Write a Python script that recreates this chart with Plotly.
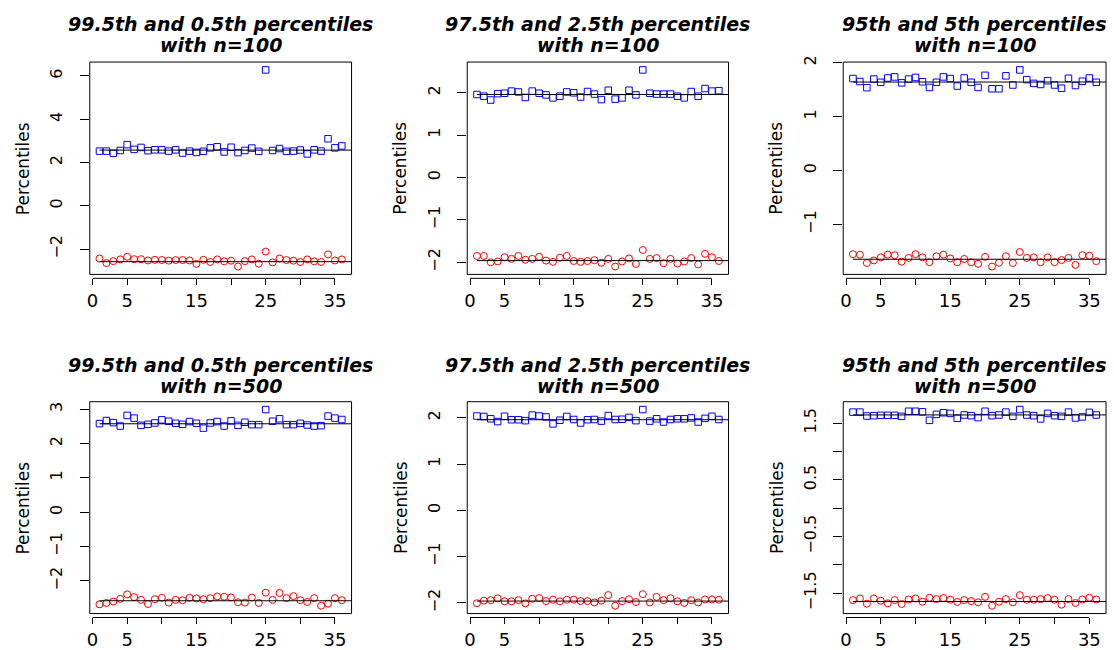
import plotly.graph_objects as go

# ---------------- data ----------------
x_index = list(range(1, 37))

upper_995_n100 = [2.53, 2.53, 2.43, 2.56, 2.83, 2.61, 2.70, 2.55, 2.59, 2.59, 2.53, 2.59,
                  2.44, 2.53, 2.47, 2.52, 2.68, 2.73, 2.49, 2.71, 2.46, 2.56, 2.67, 2.52,
                  6.28, 2.56, 2.65, 2.52, 2.53, 2.58, 2.40, 2.59, 2.53, 3.10, 2.68, 2.77]
lower_995_n100 = [-2.43, -2.64, -2.55, -2.47, -2.35, -2.46, -2.46, -2.52, -2.49, -2.50, -2.53, -2.50,
                  -2.50, -2.52, -2.68, -2.49, -2.59, -2.47, -2.56, -2.53, -2.80, -2.55, -2.47, -2.67,
                  -2.11, -2.61, -2.43, -2.50, -2.53, -2.59, -2.47, -2.56, -2.59, -2.24, -2.52, -2.47]

upper_975_n100 = [1.96, 1.92, 1.83, 1.98, 1.99, 2.04, 2.02, 1.89, 2.04, 1.99, 1.95, 1.88,
                  1.92, 2.02, 2.00, 1.90, 2.03, 1.97, 1.84, 2.06, 1.85, 1.88, 2.06, 1.95,
                  2.54, 1.99, 1.97, 1.97, 1.97, 1.92, 1.88, 2.03, 1.92, 2.10, 2.04, 2.05]
lower_975_n100 = [-1.85, -1.85, -2.00, -1.98, -1.88, -1.92, -1.85, -1.94, -1.92, -1.87, -1.96, -1.99,
                  -1.89, -1.85, -1.97, -1.99, -1.97, -1.95, -2.01, -1.92, -2.10, -1.98, -1.91, -2.04,
                  -1.71, -1.92, -1.90, -2.02, -1.92, -2.03, -1.98, -1.90, -2.05, -1.80, -1.88, -1.97]

upper_95_n100 = [1.71, 1.655, 1.54, 1.70, 1.64, 1.72, 1.74, 1.63, 1.70, 1.73, 1.65, 1.545,
                 1.64, 1.74, 1.71, 1.57, 1.72, 1.64, 1.545, 1.77, 1.52, 1.52, 1.76, 1.59,
                 1.87, 1.69, 1.62, 1.60, 1.67, 1.59, 1.53, 1.715, 1.58, 1.66, 1.72, 1.64]
lower_95_n100 = [-1.55, -1.56, -1.715, -1.667, -1.61, -1.56, -1.57, -1.69, -1.62, -1.55, -1.61, -1.70,
                 -1.59, -1.56, -1.63, -1.70, -1.64, -1.70, -1.73, -1.60, -1.78, -1.71, -1.59, -1.715,
                 -1.51, -1.62, -1.61, -1.70, -1.61, -1.70, -1.66, -1.62, -1.75, -1.57, -1.58, -1.68]

upper_995_n500 = [2.58, 2.67, 2.61, 2.51, 2.82, 2.74, 2.53, 2.56, 2.60, 2.69, 2.65, 2.59,
                  2.56, 2.64, 2.59, 2.45, 2.60, 2.64, 2.51, 2.66, 2.53, 2.62, 2.55, 2.55,
                  2.99, 2.65, 2.72, 2.55, 2.55, 2.59, 2.54, 2.51, 2.52, 2.80, 2.74, 2.70]
lower_995_n500 = [-2.68, -2.64, -2.60, -2.52, -2.39, -2.47, -2.55, -2.67, -2.53, -2.49, -2.63, -2.55,
                  -2.56, -2.49, -2.51, -2.53, -2.50, -2.45, -2.46, -2.48, -2.62, -2.63, -2.48, -2.64,
                  -2.34, -2.55, -2.35, -2.50, -2.44, -2.56, -2.61, -2.50, -2.72, -2.66, -2.50, -2.56]

upper_975_n500 = [2.04, 2.03, 1.98, 1.92, 2.035, 1.96, 1.96, 1.94, 2.06, 2.04, 2.02, 1.87,
                  1.95, 2.03, 1.965, 1.89, 1.96, 1.965, 1.93, 2.05, 1.965, 1.97, 2.01, 1.94,
                  2.18, 1.93, 1.98, 1.91, 1.965, 1.98, 1.98, 2.00, 1.91, 1.99, 2.035, 1.965]
lower_975_n500 = [-2.007, -1.95, -1.94, -1.90, -1.965, -1.965, -1.94, -2.01, -1.91, -1.895, -1.96, -1.93,
                  -1.965, -1.93, -1.93, -1.96, -1.96, -1.99, -1.95, -1.83, -2.06, -1.96, -1.92, -1.98,
                  -1.81, -1.99, -1.87, -1.94, -1.90, -1.965, -2.00, -1.94, -1.99, -1.925, -1.925, -1.93]

upper_95_n500 = [1.695, 1.695, 1.626, 1.632, 1.638, 1.638, 1.638, 1.62, 1.71, 1.71, 1.70, 1.55,
                 1.655, 1.684, 1.672, 1.586, 1.644, 1.632, 1.598, 1.71, 1.632, 1.644, 1.695, 1.62,
                 1.74, 1.644, 1.632, 1.575, 1.672, 1.632, 1.62, 1.695, 1.592, 1.61, 1.69, 1.644]
lower_95_n500 = [-1.621, -1.592, -1.684, -1.592, -1.632, -1.678, -1.621, -1.69, -1.61, -1.592, -1.65, -1.58,
                 -1.603, -1.586, -1.615, -1.655, -1.621, -1.638, -1.66, -1.563, -1.72, -1.65, -1.603, -1.66,
                 -1.534, -1.615, -1.615, -1.603, -1.586, -1.615, -1.702, -1.603, -1.672, -1.61, -1.58, -1.61]

# theoretical normal quantiles (reference lines)
ref_995 = 2.576
ref_975 = 1.960
ref_95 = 1.645

title_line1 = ["99.5th and 0.5th percentiles", "97.5th and 2.5th percentiles", "95th and 5th percentiles"]
sample_sizes = [100, 500]

x_tickvals = [0, 5, 10, 15, 20, 25, 30, 35]
x_ticktext = ["0", "5", "", "15", "", "25", "", "35"]

y_tickvals_1 = [-2, 0, 2, 4, 6]
y_ticktext_1 = ["\u22122", "0", "2", "4", "6"]
y_tickvals_2 = [-2, -1, 0, 1, 2]
y_ticktext_2 = ["\u22122", "\u22121", "0", "1", "2"]
y_tickvals_3 = [-1, 0, 1, 2]
y_ticktext_3 = ["\u22121", "0", "1", "2"]
y_tickvals_4 = [-2, -1, 0, 1, 2, 3]
y_ticktext_4 = ["\u22122", "\u22121", "0", "1", "2", "3"]
y_tickvals_5 = [-2, -1, 0, 1, 2]
y_ticktext_5 = ["\u22122", "\u22121", "0", "1", "2"]
y_tickvals_6 = [-1.5, -1, -0.5, 0, 0.5, 1, 1.5]
y_ticktext_6 = ["\u22121.5", "", "\u22120.5", "", "0.5", "", "1.5"]

panels = [
    (upper_995_n100, lower_995_n100, ref_995, y_tickvals_1, y_ticktext_1),
    (upper_975_n100, lower_975_n100, ref_975, y_tickvals_2, y_ticktext_2),
    (upper_95_n100, lower_95_n100, ref_95, y_tickvals_3, y_ticktext_3),
    (upper_995_n500, lower_995_n500, ref_995, y_tickvals_4, y_ticktext_4),
    (upper_975_n500, lower_975_n500, ref_975, y_tickvals_5, y_ticktext_5),
    (upper_95_n500, lower_95_n500, ref_95, y_tickvals_6, y_ticktext_6),
]

# ---------------- layout geometry (pixels) ----------------
W, H = 1114, 650
col_px = [(87, 349.5), (465.5, 727.5), (842.5, 1106)]
row_px = [(56, 272), (401.5, 617)]
title_y_px = [(17, 38.5), (364.5, 386)]
FONT = "DejaVu Sans"


def ext_range(lo, hi, f=0.04):
    d = (hi - lo) * f
    return [lo - d, hi + d]


fig = go.Figure()
layout = dict(
    width=W, height=H,
    margin=dict(l=0, r=0, t=0, b=0),
    paper_bgcolor="white", plot_bgcolor="white",
    showlegend=False,
    font=dict(family=FONT, color="black"),
)
shapes = []
annotations = []

xr = ext_range(min(x_index), max(x_index))

for i, (up, lo, ref, ytv, ytt) in enumerate(panels):
    r, c = divmod(i, 3)
    k = i + 1
    xs = "x" if k == 1 else f"x{k}"
    ys = "y" if k == 1 else f"y{k}"
    xkey = "xaxis" if k == 1 else f"xaxis{k}"
    ykey = "yaxis" if k == 1 else f"yaxis{k}"
    x0p, x1p = col_px[c]
    ytp, ybp = row_px[r]
    yr = ext_range(min(up + lo), max(up + lo))
    axis_pos = 1 - (ybp + 4) / H

    layout[xkey] = dict(
        domain=[x0p / W, x1p / W], range=xr, anchor="free", position=axis_pos,
        tickmode="array", tickvals=x_tickvals, ticktext=x_ticktext,
        ticks="outside", ticklen=6, tickwidth=1, tickcolor="black",
        showline=False, showgrid=False, zeroline=False,
        tickfont=dict(family=FONT, size=18, color="black"),
        fixedrange=True,
    )
    layout[ykey] = dict(
        domain=[1 - ybp / H, 1 - ytp / H], range=yr, anchor=xs,
        tickmode="array", tickvals=ytv, ticktext=ytt, tickangle=-90,
        ticks="outside", ticklen=9, tickwidth=1, tickcolor="black",
        showline=False, showgrid=False, zeroline=False,
        tickfont=dict(family=FONT, size=16, color="black"),
        ticklabelstandoff=11,
        fixedrange=True,
    )

    fig.add_trace(go.Scatter(
        x=x_index, y=up, mode="markers", xaxis=xs, yaxis=ys,
        marker=dict(symbol="square-open", size=6.5, color="#0000ff", line=dict(width=1, color="#0000ff")),
        hoverinfo="skip",
    ))
    fig.add_trace(go.Scatter(
        x=x_index, y=lo, mode="markers", xaxis=xs, yaxis=ys,
        marker=dict(symbol="circle-open", size=7, color="#ff0000", line=dict(width=1, color="#ff0000")),
        hoverinfo="skip",
    ))
    for v in (ref, -ref):
        fig.add_trace(go.Scatter(
            x=[x_index[0], xr[1]], y=[v, v], mode="lines", xaxis=xs, yaxis=ys,
            line=dict(color="black", width=1), hoverinfo="skip",
        ))

    # plot frame
    shapes.append(dict(type="rect", xref=f"{xs} domain", yref=f"{ys} domain",
                       x0=0, x1=1, y0=0, y1=1, line=dict(color="black", width=1)))
    # x axis line (first to last tick)
    shapes.append(dict(type="line", xref=xs, yref="paper",
                       x0=x_tickvals[0], x1=x_tickvals[-1], y0=axis_pos, y1=axis_pos,
                       line=dict(color="black", width=1)))

    cx = (x0p + x1p) / 2 / W
    t1, t2 = title_y_px[r]
    for txt, ty in ((title_line1[c], t1), (f"with n={sample_sizes[r]}", t2)):
        annotations.append(dict(
            text=txt, xref="paper", yref="paper", x=cx, y=1 - ty / H,
            xanchor="center", yanchor="middle", showarrow=False,
            font=dict(family=FONT, size=19, color="black", weight="bold", style="italic"),
        ))
    annotations.append(dict(
        text="Percentiles", xref="paper", yref="paper", x=(x0p - 67) / W,
        y=1 - (ytp + ybp) / 2 / H, xanchor="center", yanchor="middle",
        textangle=-90, showarrow=False,
        font=dict(family=FONT, size=17, color="black"),
    ))

layout["shapes"] = shapes
layout["annotations"] = annotations
fig.update_layout(**layout)

fig.write_html("out.html")
